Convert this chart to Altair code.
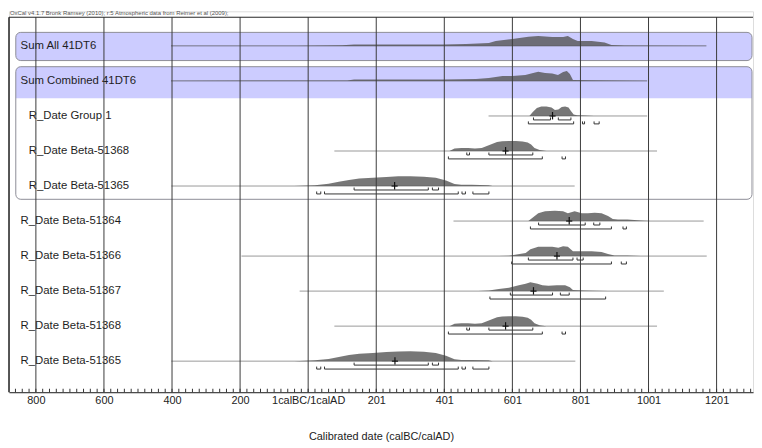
import altair as alt
import pandas as pd

# ---------------- data ----------------
ROW_LABELS = ["Sum All 41DT6", "Sum Combined 41DT6", "R_Date Group 1",
              "R_Date Beta-51368", "R_Date Beta-51365", "R_Date Beta-51364",
              "R_Date Beta-51366", "R_Date Beta-51367", "R_Date Beta-51368",
              "R_Date Beta-51365"]
ROW_INDENT = [0, 0, 1, 1, 1, 0, 0, 0, 0, 0]
LINE_FROM = [-403, -403, 530, 77, -402, 427, -196, -25, 77, -402]
LINE_TO = [1170, 996, 996, 1025, 783, 1162, 1171, 1045, 1025, 785]
MEANS = [None, None, 718, 580, 254, 767, 731, 662, 580, 255]

SUM_ALL_YR = [-403, -31, 100, 135, 397, 464, 531, 551, 600, 647, 676, 717, 749, 763, 778, 792, 833, 871, 891, 929, 1170]
SUM_ALL_P = [0.2, 0.3, 0.6, 1.5, 1.5, 2, 3, 5, 7, 9.3, 10, 9, 9, 10, 7, 5, 5, 3.5, 1, 0.4, 0.2]

SUM_COMB_YR = [-403, 115, 135, 397, 493, 531, 571, 600, 638, 661, 676, 696, 717, 734, 749, 760, 769, 778, 833, 996]
SUM_COMB_P = [0.2, 0.5, 1.5, 1.5, 2, 3, 5, 5, 6, 8, 9.3, 8, 7.5, 6, 9, 10, 7, 1, 0.7, 0.2]

GROUP1_YR = [650, 660, 672, 685, 700, 715, 725, 735, 745, 755, 765, 772, 780, 790, 810, 840]
GROUP1_P = [0, 4, 8, 9.5, 9.5, 8.5, 6, 6.5, 9, 9.5, 8.5, 5, 1.5, 0.8, 0.5, 0]

B51368_YR = [415, 430, 450, 470, 490, 510, 525, 540, 555, 570, 590, 610, 630, 645, 655, 665, 680, 700]
B51368_P = [0, 2.5, 3, 3, 2.5, 3, 5, 7, 9, 9.8, 10, 10, 9.5, 8.5, 6.5, 3, 1, 0]

B51365_YR = [-40, 20, 60, 90, 120, 150, 190, 230, 265, 300, 340, 375, 405, 430, 450, 480, 530, 542]
B51365_P = [0, 0.8, 2.3, 4.2, 6.2, 7.5, 8.3, 9.2, 9.8, 10, 9.5, 8.3, 5.5, 2, 1.2, 1.2, 0.8, 0]

B51364_YR = [647, 662, 676, 696, 725, 749, 763, 783, 804, 822, 842, 862, 881, 895, 910, 938, 978, 1007]
B51364_P = [0, 4, 8, 10, 10.5, 10, 8, 10, 8, 8, 8.5, 8, 5, 2, 1.5, 1.5, 0.5, 0]

B51366_YR = [560, 590, 639, 653, 676, 717, 735, 749, 763, 778, 804, 833, 862, 881, 900, 938, 978]
B51366_P = [0, 0.3, 3, 7, 9.5, 9.5, 8.5, 10, 9.5, 5, 5, 5, 4, 2, 0.7, 0.5, 0]

B51367_YR = [500, 531, 560, 590, 619, 639, 653, 674, 688, 706, 731, 755, 769, 778, 813, 881]
B51367_P = [0, 0.5, 2, 3.5, 6, 7.5, 9, 7.5, 6, 5.5, 6, 6, 4, 1, 0.5, 0]

DENSITIES = [(SUM_ALL_YR, SUM_ALL_P), (SUM_COMB_YR, SUM_COMB_P), (GROUP1_YR, GROUP1_P),
             (B51368_YR, B51368_P), (B51365_YR, B51365_P), (B51364_YR, B51364_P),
             (B51366_YR, B51366_P), (B51367_YR, B51367_P), (B51368_YR, B51368_P),
             (B51365_YR, B51365_P)]

# 68.2% and 95.4% ranges: (row, from, to)
R68 = [(2, 662, 712), (2, 735, 772),
       (3, 466, 474), (3, 531, 660),
       (4, 135, 353), (4, 365, 383),
       (5, 677, 814), (5, 839, 857),
       (6, 647, 778), (6, 790, 808),
       (7, 594, 718), (7, 741, 767),
       (8, 466, 474), (8, 531, 660),
       (9, 135, 353), (9, 365, 383)]
R95 = [(2, 647, 780), (2, 806, 812), (2, 840, 855),
       (3, 412, 688), (3, 746, 756),
       (4, 25, 37), (4, 48, 441), (4, 452, 462), (4, 484, 531),
       (5, 653, 891), (5, 925, 935),
       (6, 598, 891), (6, 920, 935),
       (7, 534, 874),
       (8, 412, 688), (8, 746, 756),
       (9, 25, 37), (9, 48, 441), (9, 452, 462), (9, 484, 531)]

MAJOR_TICKS = [-800, -600, -400, -200, 0, 200, 400, 600, 800, 1000, 1200]
CREDIT = "OxCal v4.1.7 Bronk Ramsey (2010); r:5 Atmospheric data from Reimer et al (2009);"

# ---------------- layout ----------------
W, H = 752, 385
X_MIN, X_MAX = -879, 1307
Y_TOP, Y_BOT = -0.9887, 9.887
PX = H / (Y_BOT - Y_TOP)          # pixels per row step
FRAME_Y = -0.819
LABEL_X = [-845, -821]


def up(px):
    return px / PX


xs = alt.Scale(domain=[X_MIN, X_MAX], nice=False, zero=False)
ys = alt.Scale(domain=[Y_TOP, Y_BOT], nice=False, zero=False, reverse=True)

XAX = alt.Axis(values=MAJOR_TICKS,
               labelExpr="datum.value == 0 ? '1calBC/1calAD' : (datum.value < 0 ? format(-datum.value, 'd') : format(datum.value + 1, 'd'))",
               title="Calibrated date (calBC/calAD)",
               grid=False, ticks=False, domain=True, domainColor="#222222", domainWidth=1,
               labelFont="Liberation Sans", labelFontSize=11, labelColor="#222222",
               labelPadding=2, labelFlush=False, labelOverlap=False,
               titleFont="Liberation Sans", titleFontSize=11, titleFontWeight="normal",
               titleColor="#222222", titlePadding=26)


def X(f):
    return alt.X(f, type="quantitative", scale=xs, axis=XAX)


def Y(f):
    return alt.Y(f, type="quantitative", scale=ys, axis=None)


# boxes
box_fill = pd.DataFrame({"x": [-859, -859], "x2": [1304, 1304],
                         "y": [-0.387, 0.593], "y2": [0.418, 1.497]})
box_line = pd.DataFrame({"x": [-859, -859], "x2": [1304, 1304],
                         "y": [-0.387, 0.593], "y2": [0.418, 4.379]})

box1 = alt.Chart(box_fill.iloc[[0]]).mark_rect(cornerRadius=5, fill="#ccccff").encode(
    x=X("x"), x2="x2", y=Y("y"), y2="y2")
box2 = alt.Chart(box_fill.iloc[[1]]).mark_rect(cornerRadiusTopLeft=5, cornerRadiusTopRight=5,
                                               fill="#ccccff").encode(
    x=X("x"), x2="x2", y=Y("y"), y2="y2")
boxes_outline = alt.Chart(box_line).mark_rect(cornerRadius=5, fillOpacity=0, stroke="#8c8c96",
                                              strokeWidth=1).encode(
    x=X("x"), x2="x2", y=Y("y"), y2="y2")

# baselines
base_df = pd.DataFrame({"x": LINE_FROM, "x2": LINE_TO, "y": list(range(len(ROW_LABELS)))})
baselines = alt.Chart(base_df).mark_rule(color="#444444", opacity=0.55, strokeWidth=1).encode(
    x=X("x"), x2="x2", y=Y("y"))

# densities
rows = []
for r, (yrs, ps) in enumerate(DENSITIES):
    for x, p in zip(yrs, ps):
        rows.append({"row": r, "x": x, "y": r - up(p), "y2": r})
dens_df = pd.DataFrame(rows)
areas = alt.Chart(dens_df).mark_area(color="#555555", opacity=0.8, interpolate="linear").encode(
    x=X("x"), y=Y("y"), y2="y2", detail="row:N")

# ranges
br, ends = [], []
for level, off in ((R68, 4.0), (R95, 8.0)):
    for r, lo, hi in level:
        yb = r + up(off)
        br.append({"x": lo, "x2": hi, "y": yb})
        for e in (lo, hi):
            ends.append({"x": e, "y": yb, "y2": yb - up(2.5)})
bars = alt.Chart(pd.DataFrame(br)).mark_rule(color="#333333", strokeWidth=1).encode(
    x=X("x"), x2="x2", y=Y("y"))
bar_ends = alt.Chart(pd.DataFrame(ends)).mark_rule(color="#333333", strokeWidth=1).encode(
    x=X("x"), y=Y("y"), y2="y2")

# mean markers
mv, mh = [], []
for r, m in enumerate(MEANS):
    if m is None:
        continue
    mv.append({"x": m, "y": r - up(4), "y2": r + up(3.5)})
    mh.append({"x": m - 9, "x2": m + 9, "y": r})
mean_v = alt.Chart(pd.DataFrame(mv)).mark_rule(color="#111111", strokeWidth=1.2).encode(
    x=X("x"), y=Y("y"), y2="y2")
mean_h = alt.Chart(pd.DataFrame(mh)).mark_rule(color="#111111", strokeWidth=1.2).encode(
    x=X("x"), x2="x2", y=Y("y"))

# labels
lab_df = pd.DataFrame({"x": [LABEL_X[i] for i in ROW_INDENT], "y": list(range(len(ROW_LABELS))),
                       "t": ROW_LABELS})
labels = alt.Chart(lab_df).mark_text(align="left", baseline="middle", font="Liberation Sans",
                                     fontSize=11.5, color="#1e1e1e").encode(
    x=X("x"), y=Y("y"), text="t:N")

# credit line above the frame
credit = alt.Chart(pd.DataFrame({"x": [X_MIN], "y": [FRAME_Y - up(2)], "t": [CREDIT]})).mark_text(
    align="left", baseline="alphabetic", font="Liberation Sans", fontSize=6, color="#555555",
    dx=1).encode(x=X("x"), y=Y("y"), text="t:N")

# vertical gridlines at the major ticks, drawn over everything, from the frame down
grid_df = pd.DataFrame({"x": MAJOR_TICKS, "y": [FRAME_Y] * len(MAJOR_TICKS),
                        "y2": [Y_BOT] * len(MAJOR_TICKS)})
grid = alt.Chart(grid_df).mark_rule(color="#3a3a3a", strokeWidth=1).encode(
    x=X("x"), y=Y("y"), y2="y2")

# minor ticks on the axis (every 20 years, pointing up)
minor = [v for v in range(-860, 1301, 20)]
tick_df = pd.DataFrame({"x": minor, "y": [Y_BOT] * len(minor), "y2": [Y_BOT - up(3.5)] * len(minor)})
ticks = alt.Chart(tick_df).mark_rule(color="#333333", strokeWidth=1).encode(
    x=X("x"), y=Y("y"), y2="y2")

# frame (top and left)
frame_top = alt.Chart(pd.DataFrame({"x": [X_MIN], "x2": [X_MAX], "y": [FRAME_Y]})).mark_rule(
    color="#222222", strokeWidth=1).encode(x=X("x"), x2="x2", y=Y("y"))
frame_left = alt.Chart(pd.DataFrame({"x": [X_MIN], "y": [FRAME_Y], "y2": [Y_BOT]})).mark_rule(
    color="#222222", strokeWidth=1.5).encode(x=X("x"), y=Y("y"), y2="y2")

chart = alt.layer(
    box1, box2, boxes_outline, baselines, areas, bars, bar_ends, mean_v, mean_h,
    labels, grid, ticks, frame_top, frame_left, credit
).properties(
    width=W, height=H, padding=0,
).configure_view(stroke=None).configure(background="white")

chart.save("out.html", embed_options={"renderer": "svg", "actions": False})
